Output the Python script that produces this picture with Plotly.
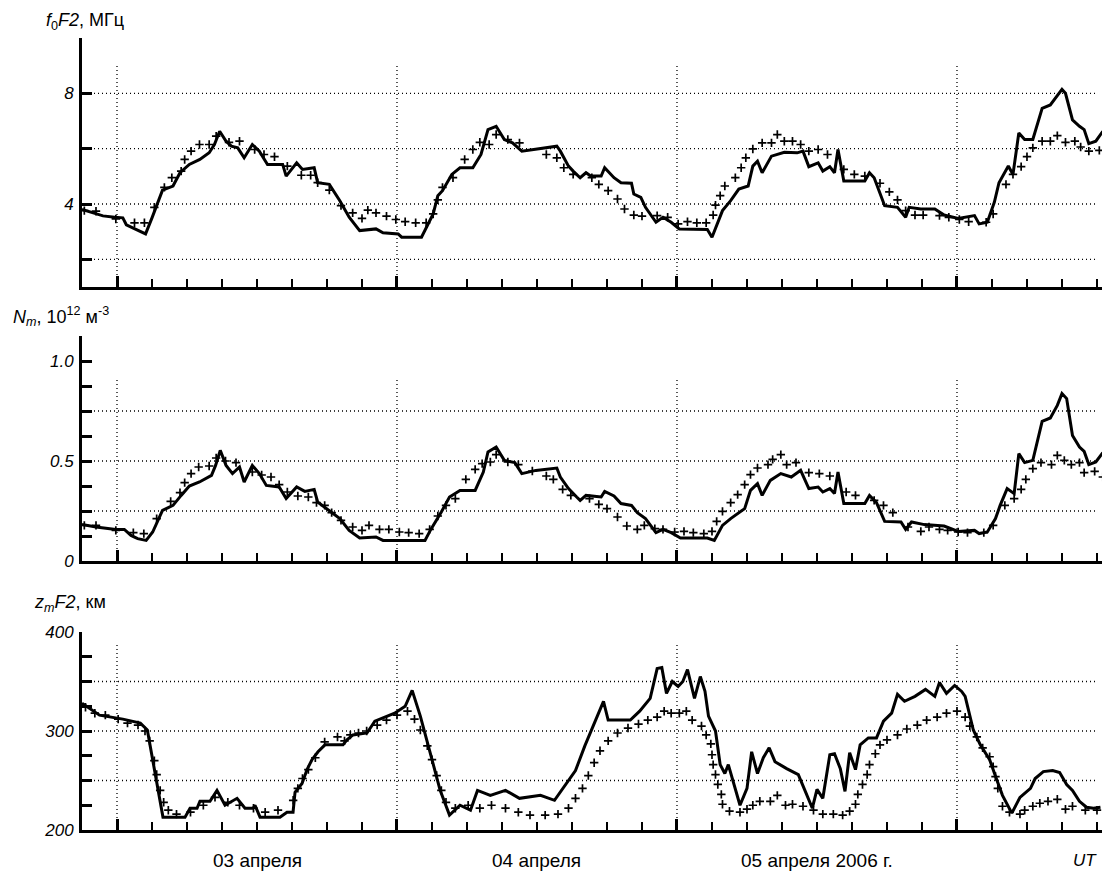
import plotly.graph_objects as go

# ---------------- data (time in hours UT from 2006-04-03 00:00) ----------------
fof2_obs_t = [-3.0, -2.0, -1.2, -0.2, 0.5, 0.8, 1.6, 2.45, 3.0, 3.3, 3.9, 4.8, 5.4, 6.2, 7.1, 7.9, 8.35, 8.8,
              9.35, 9.8, 10.35, 10.9, 11.6, 12.2, 12.9, 14.2, 14.5, 15.4, 15.9, 16.9, 17.2, 18.2, 19.1, 19.9,
              20.8, 22.2, 22.8, 24.1, 24.4, 26.1, 27.1, 27.5, 27.9, 28.7, 29.4, 30.5, 31.2, 31.8, 32.5, 33.2,
              33.9, 34.7, 35.8, 37.7, 38.0, 38.7, 39.1, 39.7, 40.2, 40.6, 41.5, 41.8, 42.6, 43.2, 44.1, 44.3,
              44.9, 45.3, 46.2, 46.8, 47.5, 48.2, 50.6, 51.0, 51.9, 52.6, 53.3, 54.1, 54.5, 54.9, 55.3, 56.1,
              57.2, 58.3, 58.8, 59.3, 60.1, 60.5, 61.1, 61.5, 61.8, 62.3, 64.1, 64.5, 64.9, 65.8, 66.9, 67.6,
              67.9, 68.9, 70.1, 70.9, 72.1, 73.5, 73.9, 74.6, 75.2, 75.6, 76.4, 76.8, 77.3, 77.8, 78.5, 79.3,
              80.0, 80.6, 81.0, 81.3, 81.9, 82.5, 82.9, 83.3, 83.9, 84.5]
fof2_obs = [3.80, 3.66, 3.57, 3.52, 3.50, 3.25, 3.08, 2.92, 3.50, 3.85, 4.50, 4.65, 5.13, 5.43, 5.61, 5.85, 6.15, 6.63,
            6.27, 6.09, 6.03, 5.67, 6.15, 5.91, 5.43, 5.43, 5.01, 5.49, 5.25, 5.31, 4.77, 4.71, 4.12, 3.52,
            3.04, 3.10, 2.96, 2.92, 2.80, 2.80, 3.64, 4.30, 4.48, 5.07, 5.31, 5.31, 5.79, 6.69, 6.81, 6.33,
            6.21, 5.91, 5.97, 6.09, 5.91, 5.37, 5.19, 4.95, 5.13, 5.01, 5.01, 5.31, 4.95, 4.77, 4.75, 4.36,
            4.24, 3.88, 3.34, 3.52, 3.34, 3.10, 3.08, 2.80, 3.76, 4.12, 4.54, 4.65, 5.37, 5.55, 5.13, 5.73,
            5.87, 5.85, 5.91, 5.35, 5.49, 5.19, 5.35, 5.13, 5.97, 4.83, 4.83, 5.13, 4.95, 3.94, 3.88, 3.52,
            3.88, 3.82, 3.82, 3.60, 3.48, 3.58, 3.28, 3.34, 4.06, 4.77, 5.37, 5.07, 6.57, 6.33, 6.33, 7.46,
            7.58, 7.94, 8.14, 8.00, 7.04, 6.81, 6.69, 6.18, 6.27, 6.63]

fof2_mod_t = [-2.8, -1.8, -0.1, 1.5, 2.35, 3.2, 4.06, 4.7, 5.5, 5.8, 6.35, 7.07, 7.9, 8.5, 9.6, 10.5, 11.8, 12.6,
              13.5, 14.6, 15.8, 16.6, 17.2, 18.2, 19.2, 20.2, 21.0, 21.5, 22.2, 23.1, 23.9, 24.7, 25.6, 26.5,
              27.1, 27.5, 27.9, 28.8, 29.8, 30.5, 31.1, 31.9, 32.5, 33.5, 34.5, 36.8, 37.7, 38.3, 39.1, 40.7,
              41.3, 42.1, 42.9, 43.5, 44.3, 45.0, 46.3, 47.2, 48.1, 48.9, 49.7, 50.5, 51.1, 51.3, 51.7, 52.1,
              53.0, 53.5, 53.9, 54.5, 55.3, 56.1, 56.6, 57.2, 57.9, 58.6, 59.3, 60.1, 60.9, 62.3, 63.2, 64.1,
              65.4, 66.2, 66.9, 67.6, 68.4, 69.1, 70.5, 71.3, 72.2, 73.0, 74.5, 75.1, 76.2, 76.8, 77.5, 78.0,
              78.5, 79.3, 80.0, 80.6, 81.3, 82.1, 82.6, 83.3, 84.2]
fof2_mod = [3.76, 3.74, 3.46, 3.32, 3.32, 3.88, 4.60, 4.95, 5.19, 5.61, 5.91, 6.15, 6.15, 6.45, 6.23, 6.27, 5.97, 5.79,
            5.71, 5.37, 5.04, 5.04, 4.77, 4.50, 3.94, 3.68, 3.48, 3.78, 3.68, 3.56, 3.44, 3.36, 3.32, 3.32,
            3.64, 4.15, 4.60, 4.95, 5.61, 5.97, 6.23, 6.15, 6.51, 6.33, 6.21, 5.79, 5.67, 5.31, 5.07, 4.95,
            4.71, 4.48, 4.18, 3.82, 3.60, 3.56, 3.58, 3.52, 3.28, 3.36, 3.32, 3.32, 3.60, 3.96, 4.30, 4.65,
            4.95, 5.31, 5.67, 5.99, 6.21, 6.21, 6.51, 6.27, 6.27, 6.15, 5.91, 5.97, 5.79, 5.25, 5.07, 5.01,
            4.75, 4.44, 4.15, 3.76, 3.60, 3.60, 3.58, 3.52, 3.44, 3.36, 3.34, 3.64, 4.71, 5.07, 5.35, 5.71,
            6.03, 6.27, 6.27, 6.47, 6.23, 6.27, 6.06, 5.91, 5.94]

nm_obs_t = [-3.0, -1.8, -0.1, 0.63, 1.2, 1.77, 2.5, 3.06, 3.9, 4.8, 5.5, 6.2, 7.07, 8.1, 8.45, 8.85, 9.35, 9.9,
            10.5, 10.9, 11.6, 12.2, 12.8, 13.9, 14.5, 15.4, 16.1, 16.9, 17.2, 18.2, 19.1, 19.9, 20.8, 22.2,
            22.8, 26.4, 26.9, 27.8, 28.5, 29.4, 30.7, 31.4, 31.8, 32.5, 33.2, 34.1, 34.7, 35.9, 37.7, 38.0,
            38.7, 39.4, 39.7, 40.2, 41.5, 41.8, 42.6, 43.2, 44.1, 44.6, 45.3, 46.2, 46.8, 47.5, 48.3, 50.6,
            51.2, 51.9, 52.6, 53.8, 54.3, 54.9, 55.3, 56.0, 56.9, 57.8, 58.6, 59.3, 60.1, 60.5, 61.1, 61.5,
            61.8, 62.3, 64.1, 64.5, 65.1, 65.8, 67.2, 67.6, 68.1, 69.2, 70.9, 72.1, 73.5, 73.9, 74.6, 75.3,
            75.7, 76.3, 76.9, 77.3, 77.8, 78.5, 79.3, 80.0, 80.6, 81.0, 81.4, 81.9, 82.5, 82.9, 83.3, 83.9, 84.5]
nm_obs = [0.183, 0.170, 0.158, 0.158, 0.128, 0.112, 0.103, 0.145, 0.253, 0.278, 0.328, 0.375, 0.395, 0.428, 0.478,
          0.553, 0.478, 0.437, 0.470, 0.395, 0.478, 0.437, 0.378, 0.370, 0.312, 0.370, 0.348, 0.358, 0.295,
          0.253, 0.212, 0.153, 0.115, 0.120, 0.103, 0.103, 0.158, 0.245, 0.320, 0.353, 0.353, 0.445, 0.545,
          0.570, 0.503, 0.492, 0.437, 0.453, 0.465, 0.420, 0.362, 0.320, 0.303, 0.328, 0.320, 0.348, 0.325,
          0.287, 0.278, 0.242, 0.212, 0.142, 0.158, 0.142, 0.115, 0.115, 0.103, 0.178, 0.212, 0.262, 0.353,
          0.387, 0.328, 0.403, 0.437, 0.420, 0.453, 0.362, 0.370, 0.345, 0.362, 0.337, 0.445, 0.287, 0.287,
          0.328, 0.292, 0.198, 0.195, 0.158, 0.195, 0.182, 0.175, 0.148, 0.153, 0.137, 0.145, 0.212, 0.278,
          0.362, 0.337, 0.537, 0.492, 0.503, 0.698, 0.715, 0.778, 0.837, 0.812, 0.628, 0.570, 0.548, 0.482,
          0.495, 0.542]

nm_mod_t = [-2.8, -1.8, -0.1, 1.4, 2.3, 3.4, 4.6, 5.4, 5.8, 6.35, 7.0, 7.9, 8.5, 9.3, 10.2, 11.6, 12.4, 13.2,
            13.9, 14.6, 15.5, 16.4, 17.1, 17.8, 18.4, 19.2, 20.2, 21.0, 21.6, 22.5, 23.3, 24.2, 25.0, 25.9,
            26.8, 27.5, 28.2, 29.0, 29.9, 30.7, 31.3, 32.0, 32.5, 33.5, 34.4, 35.6, 36.8, 37.4, 38.2, 38.9,
            40.5, 41.3, 42.0, 42.9, 43.7, 44.6, 45.2, 46.1, 46.8, 47.8, 48.6, 49.4, 50.3, 51.0, 51.4, 51.9,
            52.6, 53.2, 53.8, 54.3, 54.9, 55.8, 56.2, 56.9, 57.4, 58.2, 59.3, 60.2, 61.1, 62.5, 63.3, 64.9,
            65.7, 66.5, 67.8, 68.9, 69.6, 70.5, 71.2, 72.1, 72.9, 74.3, 75.1, 76.1, 76.9, 77.5, 77.9, 78.5,
            79.2, 80.1, 80.6, 81.2, 81.8, 82.5, 82.9, 83.8, 84.5]
nm_mod = [0.178, 0.178, 0.153, 0.142, 0.137, 0.212, 0.298, 0.342, 0.392, 0.437, 0.470, 0.475, 0.515, 0.500,
          0.492, 0.445, 0.430, 0.420, 0.382, 0.345, 0.325, 0.320, 0.292, 0.278, 0.242, 0.203, 0.170, 0.153,
          0.178, 0.158, 0.158, 0.145, 0.142, 0.137, 0.158, 0.225, 0.278, 0.312, 0.408, 0.458, 0.487, 0.495,
          0.532, 0.495, 0.482, 0.450, 0.425, 0.408, 0.358, 0.328, 0.312, 0.283, 0.262, 0.220, 0.175, 0.158,
          0.178, 0.162, 0.158, 0.145, 0.148, 0.142, 0.137, 0.148, 0.198, 0.248, 0.292, 0.332, 0.382, 0.432,
          0.465, 0.482, 0.508, 0.532, 0.482, 0.492, 0.442, 0.437, 0.425, 0.345, 0.328, 0.303, 0.278, 0.242,
          0.170, 0.148, 0.170, 0.158, 0.153, 0.145, 0.142, 0.142, 0.178, 0.278, 0.312, 0.358, 0.408, 0.462,
          0.492, 0.482, 0.528, 0.503, 0.482, 0.492, 0.442, 0.448, 0.420]

zm_obs_t = [-3.0, -1.5, 0.5, 2.0, 2.6, 3.0, 3.5, 3.94, 5.83, 6.26, 6.86, 7.11, 7.97, 8.57, 9.26, 10.29, 10.97,
            11.66, 11.83, 12.26, 13.97, 14.57, 15.09, 15.26, 15.86, 16.29, 16.71, 17.23, 17.83, 19.37, 19.71,
            20.23, 21.43, 22.1, 23.8, 24.7, 25.3, 26.0, 26.8, 27.7, 28.5, 29.4, 30.3, 30.9, 32.0, 33.3, 34.5,
            36.3, 37.5, 38.4, 39.3, 40.1, 41.0, 41.7, 42.1, 44.0, 44.8, 45.7, 46.3, 46.7, 47.1, 47.6, 48.1,
            48.5, 48.9, 49.5, 50.0, 50.4, 50.7, 51.3, 51.7, 52.1, 52.4, 52.8, 53.4, 54.0, 54.4, 54.9, 55.4,
            55.9, 56.4, 57.4, 58.4, 59.0, 59.6, 60.0, 60.5, 61.1, 61.5, 62.0, 62.4, 62.8, 63.3, 63.7, 64.4,
            65.1, 65.7, 66.4, 66.9, 67.5, 68.4, 69.3, 70.1, 70.5, 71.1, 71.8, 72.4, 72.7, 73.1, 73.4, 74.0,
            74.8, 75.4, 75.9, 76.7, 77.4, 78.3, 78.7, 79.4, 80.2, 80.8, 81.4, 81.9, 82.5, 83.1, 83.7, 84.3]
zm_obs = [328, 316, 312, 308, 301, 275, 240, 213, 213, 222, 222, 229, 229, 240, 225, 232, 222,
          222, 225, 213, 213, 218, 218, 238, 247, 261, 271, 279, 286, 286, 291,
          296, 298, 310, 318, 325, 341, 315, 280, 240, 215, 225, 220, 240, 235, 240, 232,
          235, 230, 245, 260, 285, 310, 330, 311, 311, 320, 333, 363, 364, 338, 350, 345,
          350, 362, 333, 355, 340, 315, 300, 266, 257, 266, 249, 225, 242, 279, 257, 273,
          283, 269, 262, 256, 239, 222, 241, 232, 276, 277, 262, 239, 278, 261, 286, 293,
          293, 310, 318, 337, 330, 335, 342, 335, 349, 338, 346, 340, 335, 315, 301, 286,
          271, 251, 235, 217, 233, 242, 252, 259, 260, 258, 246, 240, 229, 223, 222, 223]

zm_mod_t = [-2.7, -1.9, -1.0, 0.1, 0.9, 1.8, 2.4, 2.8, 3.2, 3.4, 3.7, 4.0, 4.4, 5.1, 6.3, 7.4, 8.4, 9.5, 10.5,
            11.7, 12.7, 13.8, 15.1, 15.5, 15.9, 16.4, 17.0, 17.8, 18.9, 19.5, 20.0, 20.7, 21.4, 22.3, 23.1,
            24.0, 24.9, 25.5, 26.0, 26.6, 27.0, 27.4, 27.8, 28.2, 29.0, 30.1, 31.1, 32.1, 33.3, 34.4, 35.4,
            36.7, 37.8, 38.7, 39.3, 39.9, 40.4, 40.9, 41.4, 42.1, 42.9, 43.8, 44.7, 45.5, 46.3, 46.9, 47.5,
            48.2, 48.8, 49.3, 50.1, 50.5, 50.9, 51.0, 51.1, 51.3, 51.5, 51.8, 51.9, 52.5, 53.4, 54.0, 54.5,
            55.1, 56.0, 56.6, 57.3, 57.9, 58.8, 59.7, 60.5, 61.4, 62.2, 62.8, 63.3, 63.5, 63.9, 64.3, 64.5,
            65.0, 65.4, 66.0, 66.9, 67.7, 68.6, 69.4, 70.3, 71.1, 72.0, 72.7, 73.1, 73.7, 74.2, 74.8, 75.1,
            75.3, 75.5, 75.9, 76.5, 77.4, 77.8, 78.5, 79.1, 79.8, 80.6, 81.3, 81.9, 83.0, 84.0]
zm_mod = [324, 318, 316, 312, 308, 306, 300, 290, 270, 256, 240, 228, 220, 216, 218, 225, 233, 228, 225,
          222, 218, 220, 230, 242, 252, 261, 273, 289, 294, 290, 296, 298, 300, 306, 311,
          316, 320, 312, 301, 285, 271, 255, 240, 228, 222, 225, 222, 225, 222, 218, 215,
          215, 216, 222, 232, 242, 255, 268, 280, 290, 298, 303, 307, 311, 314, 320, 318,
          318, 320, 311, 305, 296, 287, 276, 266, 256, 246, 236, 226, 219, 218, 221, 225,
          229, 229, 235, 225, 226, 224, 220, 216, 216, 215, 219, 226, 236, 246, 256, 266,
          277, 286, 291, 296, 302, 306, 311, 314, 318, 320, 314, 305, 294, 283, 274, 264,
          254, 242, 224, 218, 216, 220, 224, 227, 229, 231, 221, 224, 220, 220]

day_labels = ["03 апреля", "04 апреля", "05 апреля 2006 г."]
day_centers = [12, 36, 60]

# ---------------- layout constants ----------------
W, H = 1102, 871
L = 82
X_RANGE = [-3.0, 84.43]
FONT = "Liberation Sans, Arial, Helvetica, sans-serif"


def pdom(top_px, bot_px):
    return [1 - bot_px / H, 1 - top_px / H]


panels = [
    dict(dom=pdom(38, 287), rng=[1, 10], tv=[2, 4, 6, 8, 10], tt=["", "4", "", "8", ""],
         hgrid=[2, 4, 6, 8], vtop=9.0),
    dict(dom=pdom(336, 561), rng=[0, 1.125], tv=[0, 0.125, 0.25, 0.375, 0.5, 0.625, 0.75, 0.875, 1.0, 1.125],
         tt=["0", "", "", "", "0.5", "", "", "", "1.0", ""], hgrid=[0.25, 0.5, 0.75], vtop=0.91),
    dict(dom=pdom(632, 830), rng=[200, 400], tv=[200, 225, 250, 275, 300, 325, 350, 375, 400],
         tt=["200", "", "", "", "300", "", "", "", "400"], hgrid=[250, 300, 350], vtop=390),
]

series = [(fof2_obs_t, fof2_obs, fof2_mod_t, fof2_mod),
          (nm_obs_t, nm_obs, nm_mod_t, nm_mod),
          (zm_obs_t, zm_obs, zm_mod_t, zm_mod)]

fig = go.Figure()
layout = dict(width=W, height=H, margin=dict(l=L, r=0, t=0, b=0, pad=0, autoexpand=False), showlegend=False,
              plot_bgcolor="white", paper_bgcolor="white", font=dict(family=FONT, color="black"))
shapes = []
grid_line = dict(color="black", width=1.3, dash="1px,3px")

for i, (p, (ot, ov, mt, mv)) in enumerate(zip(panels, series), start=1):
    xa = "x" if i == 1 else f"x{i}"
    ya = "y" if i == 1 else f"y{i}"
    fig.add_trace(go.Scatter(x=mt, y=mv, mode="markers", xaxis=xa, yaxis=ya,
                             marker=dict(symbol="cross-thin", size=6, color="black",
                                         line=dict(color="black", width=1.7))))
    fig.add_trace(go.Scatter(x=ot, y=ov, mode="lines", xaxis=xa, yaxis=ya,
                             line=dict(color="black", width=3)))
    layout["xaxis" if i == 1 else f"xaxis{i}"] = dict(
        domain=[0, 1], anchor=ya, range=X_RANGE, showline=True, linewidth=3, linecolor="black",
        ticks="inside", tick0=0, dtick=24, ticklen=11, tickwidth=2.5, tickcolor="black",
        showticklabels=False, showgrid=False, zeroline=False, automargin=False,
        minor=dict(tick0=0, dtick=3, ticks="inside", ticklen=8, tickwidth=2, tickcolor="black", showgrid=False))
    layout["yaxis" if i == 1 else f"yaxis{i}"] = dict(
        domain=p["dom"], anchor=xa, range=p["rng"], showline=True, linewidth=3, linecolor="black",
        ticks="inside", ticklen=10, tickwidth=3, tickcolor="black", tickvals=p["tv"], ticktext=p["tt"],
        tickfont=dict(size=17, style="italic", family=FONT), showgrid=False, zeroline=False,
        ticklabelstandoff=2, automargin=False)
    for g in p["hgrid"]:
        shapes.append(dict(type="line", xref=xa, yref=ya, x0=X_RANGE[0], x1=83.9, y0=g, y1=g,
                           line=grid_line, layer="below"))
    for d in [0, 24, 48, 72]:
        shapes.append(dict(type="line", xref=xa, yref=ya, x0=d, x1=d, y0=p["rng"][0], y1=p["vtop"],
                           line=grid_line, layer="below"))

layout["shapes"] = shapes


def px_x(px):
    return (px - L) / (W - L)


def px_y(py):
    return 1 - py / H


ann = [
    dict(text="<i>f</i><sub>0</sub><i>F2</i>, МГц", x=px_x(44), y=px_y(22)),
    dict(text="<i>N<sub>m</sub></i>, 10<sup>12</sup> м<sup>-3</sup>", x=px_x(11), y=px_y(316)),
    dict(text="<i>z<sub>m</sub>F2</i>, км", x=px_x(32), y=px_y(603)),
]
annotations = []
for a in ann:
    annotations.append(dict(text=a["text"], x=a["x"], y=a["y"], xref="paper", yref="paper",
                            xanchor="left", yanchor="middle", showarrow=False,
                            font=dict(size=18, family=FONT, color="black")))
for lab, c in zip(day_labels, day_centers):
    annotations.append(dict(text=lab, x=c, y=px_y(860), xref="x3", yref="paper", xanchor="center",
                            yanchor="middle", showarrow=False, font=dict(size=19, family=FONT, color="black")))
annotations.append(dict(text="<i>UT</i>", x=px_x(1099), y=px_y(860), xref="paper", yref="paper",
                        xanchor="right", yanchor="middle", showarrow=False,
                        font=dict(size=17, family=FONT, color="black")))
layout["annotations"] = annotations

fig.update_layout(**layout)
fig.write_html("out.html", config={"displayModeBar": False},
               post_script="document.body.style.margin='0px';document.body.style.overflow='hidden';")
